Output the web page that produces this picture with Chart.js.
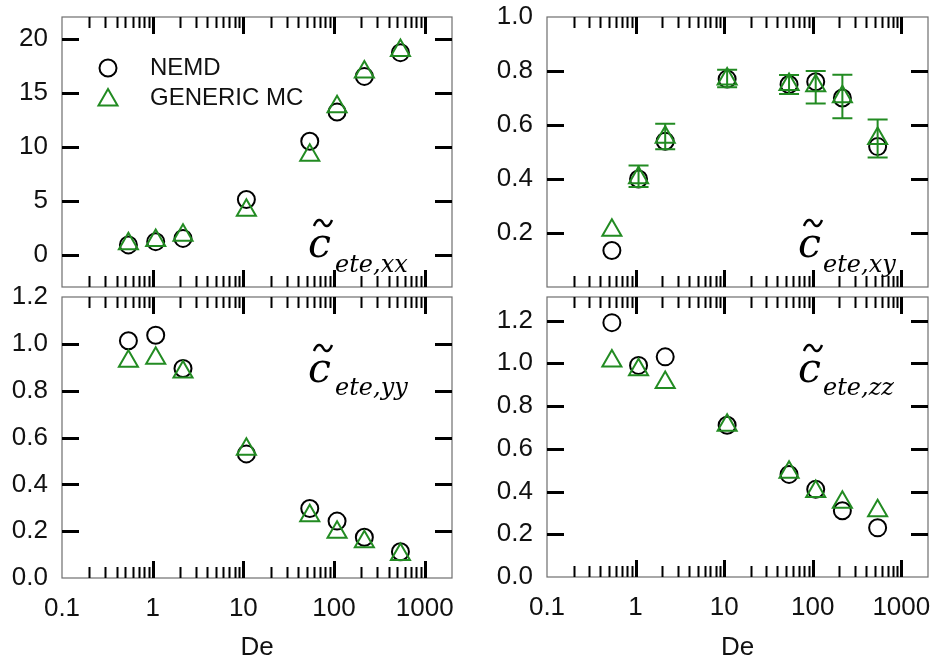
<!DOCTYPE html>
<html>
<head>
<meta charset="utf-8">
<script src="https://cdn.jsdelivr.net/npm/chart.js@4.4.1/dist/chart.umd.min.js"></script>
<style>
  body { margin: 0; background: #fff; }
  #wrap { position: relative; width: 941px; height: 663px; overflow: hidden; }
  canvas { position: absolute; }
</style>
</head>
<body>
<div id="wrap">
  <canvas id="c-xx" width="470" height="300" style="left:0;top:0"></canvas>
  <canvas id="c-xy" width="471" height="300" style="left:470px;top:0"></canvas>
  <canvas id="c-yy" width="470" height="383" style="left:0;top:280px"></canvas>
  <canvas id="c-zz" width="471" height="383" style="left:470px;top:280px"></canvas>
</div>
<script>
// --- Datos ---

const deValues = [0.54, 1.08, 2.16, 10.8, 54, 108, 216, 540];

const nemdXX    = [0.9, 1.2, 1.5, 5.1, 10.5, 13.2, 16.5, 18.7];
const genericXX = [1.0, 1.3, 1.8, 4.1, 9.2, 13.7, 16.9, 18.9];

const nemdXY        = [0.135, 0.40, 0.54, 0.77, 0.75, 0.76, 0.70, 0.52];
const genericXY     = [0.21, 0.405, 0.555, 0.77, 0.75, 0.745, 0.705, 0.55];
const genericXYLow  = [null, 0.37, 0.51, 0.74, 0.715, 0.68, 0.625, 0.48];
const genericXYHigh = [null, 0.45, 0.605, 0.805, 0.785, 0.80, 0.786, 0.62];

const nemdYY    = [1.013, 1.037, 0.895, 0.53, 0.297, 0.243, 0.174, 0.112];
const genericYY = [0.926, 0.938, 0.88, 0.55, 0.266, 0.195, 0.155, 0.10];

const nemdZZ    = [1.19, 0.99, 1.03, 0.71, 0.48, 0.41, 0.31, 0.23];
const genericZZ = [1.01, 0.97, 0.91, 0.71, 0.49, 0.40, 0.35, 0.31];

const xTickLabels = [0.1, 1, 10, 100, 1000];
const yTicksXX = [0, 5, 10, 15, 20];
const yTicksXY = [0.2, 0.4, 0.6, 0.8, 1.0];
const yTicksYY = [0.0, 0.2, 0.4, 0.6, 0.8, 1.0, 1.2];
const yTicksZZ = [0.0, 0.2, 0.4, 0.6, 0.8, 1.0, 1.2];

// --- Estilo ---

const GREEN = "#228b22";
const FONT = "'Liberation Sans', Arial, sans-serif";

const panels = {
  "c-xx": { nemd: nemdXX, generic: genericXX, yMin: -3, yMax: 22, yTicks: yTicksXX, dec: 0,
    sub: "ete,xx", showX: false, legend: true,
    pad: { top: 17, right: 18, bottom: 3, left: 0 }, yWidth: 62, cPos: [312, 257], subPos: [335, 272] },
  "c-xy": { nemd: nemdXY, generic: genericXY, yMin: 0, yMax: 1.0, yTicks: yTicksXY, dec: 1,
    sub: "ete,xy", showX: false, errLow: genericXYLow, errHigh: genericXYHigh,
    pad: { top: 17, right: 4, bottom: 3, left: 0 }, yWidth: 77, cPos: [332, 257], subPos: [353, 272] },
  "c-yy": { nemd: nemdYY, generic: genericYY, yMin: 0, yMax: 1.2, yTicks: yTicksYY, dec: 1,
    sub: "ete,yy", showX: true,
    pad: { top: 17, right: 18, bottom: 0, left: 0 }, yWidth: 62, xHeight: 85, cPos: [312, 102], subPos: [335, 115] },
  "c-zz": { nemd: nemdZZ, generic: genericZZ, yMin: 0, yMax: 1.31, yTicks: yTicksZZ, dec: 1,
    sub: "ete,zz", showX: true,
    pad: { top: 17, right: 4, bottom: 0, left: 0 }, yWidth: 77, xHeight: 86, cPos: [332, 102], subPos: [353, 115] },
};

const panelOf = chart => panels[chart.canvas.id];

// --- Plugins ---

// marco gris + ticks hacia dentro (estilo Origin)
const framePlugin = {
  id: "frame",
  beforeDatasetsDraw(chart) {
    const { ctx, chartArea: a, scales: { x, y } } = chart;
    ctx.save();
    ctx.strokeStyle = "#6e6e6e";
    ctx.lineWidth = 1.2;
    ctx.strokeRect(a.left, a.top, a.right - a.left, a.bottom - a.top);

    ctx.strokeStyle = "#000";
    const minor = [];
    for (const d of [0.1, 1, 10, 100]) for (let m = 2; m <= 9; m++) minor.push(d * m);
    const drawX = (v, len, w) => {
      const px = Math.round(x.getPixelForValue(v)) + 0.5;
      ctx.lineWidth = w;
      ctx.beginPath();
      ctx.moveTo(px, a.top); ctx.lineTo(px, a.top + len);
      ctx.moveTo(px, a.bottom); ctx.lineTo(px, a.bottom - len);
      ctx.stroke();
    };
    minor.forEach(v => drawX(v, 11, 2));
    xTickLabels.filter(v => v > x.min).forEach(v => drawX(v, 17, 3));

    ctx.lineWidth = 3;
    panelOf(chart).yTicks.forEach(v => {
      if (v <= y.min || v >= y.max) return;
      const py = Math.round(y.getPixelForValue(v)) + 0.5;
      ctx.beginPath();
      ctx.moveTo(a.left, py); ctx.lineTo(a.left + 17, py);
      ctx.moveTo(a.right, py); ctx.lineTo(a.right - 17, py);
      ctx.stroke();
    });
    ctx.restore();
  },
};

// barras de error (GENERIC MC)
const errorBarPlugin = {
  id: "errbars",
  afterDatasetsDraw(chart) {
    const p = panelOf(chart);
    if (!p.errLow) return;
    const { ctx, scales: { y } } = chart;
    const meta = chart.getDatasetMeta(1);
    ctx.save();
    ctx.strokeStyle = GREEN;
    ctx.lineWidth = 2;
    meta.data.forEach((pt, i) => {
      if (p.errLow[i] == null) return;
      const yl = y.getPixelForValue(p.errLow[i]);
      const yh = y.getPixelForValue(p.errHigh[i]);
      ctx.beginPath();
      ctx.moveTo(pt.x, yl); ctx.lineTo(pt.x, yh);
      ctx.moveTo(pt.x - 10, yl); ctx.lineTo(pt.x + 10, yl);
      ctx.moveTo(pt.x - 10, yh); ctx.lineTo(pt.x + 10, yh);
      ctx.stroke();
    });
    ctx.restore();
  },
};

// etiqueta c~_{ete,..} y leyenda
const labelPlugin = {
  id: "labels",
  afterDraw(chart) {
    const p = panelOf(chart);
    const { ctx } = chart;
    ctx.save();
    ctx.fillStyle = "#000";
    ctx.textBaseline = "alphabetic";
    ctx.textAlign = "left";
    const [cx, cy] = p.cPos;
    ctx.font = "italic 41px 'DejaVu Serif', serif";
    ctx.fillText("c", cx - 4, cy);
    // tilde
    const tx = cx + 2, ty = cy - 34;
    ctx.strokeStyle = "#000";
    ctx.lineWidth = 2.4;
    ctx.beginPath();
    ctx.moveTo(tx, ty + 3);
    ctx.bezierCurveTo(tx + 3, ty - 5, tx + 7, ty - 4, tx + 9, ty);
    ctx.bezierCurveTo(tx + 11, ty + 4, tx + 15, ty + 5, tx + 18, ty - 3);
    ctx.stroke();
    ctx.font = "italic 24px 'DejaVu Serif', serif";
    ctx.fillText(p.sub, p.subPos[0], p.subPos[1]);

    if (p.legend) {
      const rows = [68, 98];
      chart.data.datasets.forEach((ds, i) => {
        ctx.strokeStyle = ds.borderColor;
        ctx.lineWidth = ds.borderWidth;
        ctx.beginPath();
        if (ds.pointStyle === "circle") {
          ctx.arc(108, rows[i], ds.pointRadius, 0, Math.PI * 2);
        } else {
          const r = ds.pointRadius, yc = rows[i] + 2;
          ctx.moveTo(108, yc - r);
          ctx.lineTo(108 + Math.sin(2 * Math.PI / 3) * r, yc + r / 2);
          ctx.lineTo(108 - Math.sin(2 * Math.PI / 3) * r, yc + r / 2);
          ctx.closePath();
        }
        ctx.stroke();
        ctx.fillStyle = "#111";
        ctx.font = `24px ${FONT}`;
        ctx.textBaseline = "middle";
        ctx.fillText(ds.label, 150, rows[i]);
      });
    }
    ctx.restore();
  },
};

// --- Creación de los paneles ---

function makePanel(id) {
  const p = panels[id];
  return new Chart(document.getElementById(id), {
    type: "scatter",
    data: {
      datasets: [
        {
          label: "NEMD",
          data: deValues.map((x, i) => ({ x, y: p.nemd[i] })),
          pointStyle: "circle",
          pointRadius: 8.5,
          borderWidth: 2,
          borderColor: "#000",
          backgroundColor: "rgba(0,0,0,0)",
          order: 2,
        },
        {
          label: "GENERIC MC",
          data: deValues.map((x, i) => ({ x, y: p.generic[i] })),
          pointStyle: "triangle",
          pointRadius: 11,
          borderWidth: 2,
          borderColor: GREEN,
          backgroundColor: "rgba(0,0,0,0)",
          order: 1,
        },
      ],
    },
    options: {
      responsive: false,
      animation: false,
      events: [],
      layout: { padding: p.pad },
      plugins: { legend: { display: false }, tooltip: { enabled: false } },
      scales: {
        x: {
          type: "logarithmic",
          display: p.showX,
          min: 0.1,
          max: 2000,
          afterBuildTicks: s => { s.ticks = xTickLabels.map(v => ({ value: v })); },
          afterFit: s => {
            if (p.showX) s.height = p.xHeight;
            s.paddingLeft = 0; s.paddingRight = 0;
          },
          grid: { display: false, drawTicks: false },
          border: { display: false },
          ticks: {
            autoSkip: false, maxRotation: 0, padding: 15, color: "#111",
            font: { family: FONT, size: 26 },
            callback: v => String(v),
          },
          title: {
            display: true, text: "De", color: "#111", padding: { top: 0, bottom: 0 },
            font: { family: FONT, size: 26 },
          },
        },
        y: {
          min: p.yMin,
          max: p.yMax,
          afterBuildTicks: s => { s.ticks = p.yTicks.map(v => ({ value: v })); },
          afterFit: s => {
            s.width = p.yWidth;
            s.paddingTop = 0; s.paddingBottom = 0;
          },
          grid: { display: false, drawTicks: false },
          border: { display: false },
          ticks: {
            padding: 14, color: "#111",
            font: { family: FONT, size: 26 },
            callback: v => v.toFixed(p.dec),
          },
        },
      },
    },
    plugins: [framePlugin, errorBarPlugin, labelPlugin],
  });
}

Object.keys(panels).forEach(makePanel);
</script>
</body>
</html>
